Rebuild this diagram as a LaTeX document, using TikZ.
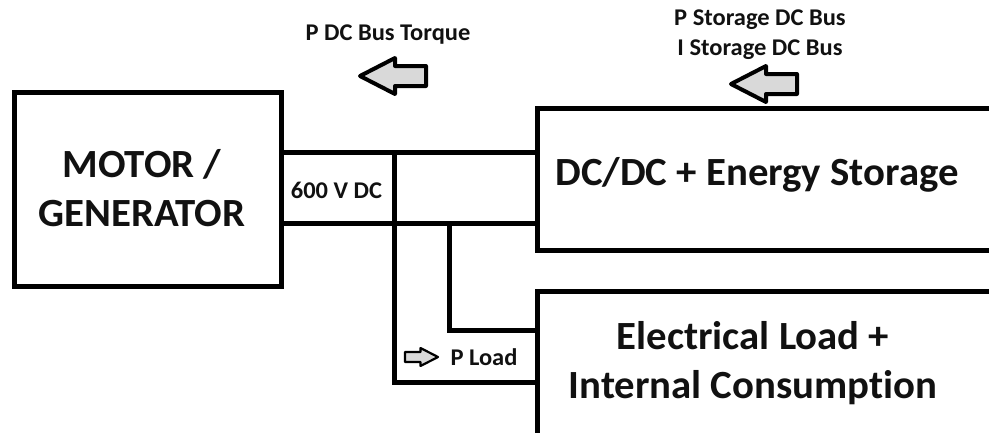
\documentclass[tikz,border=0pt]{standalone}
\usepackage{fontspec}
\setmainfont[Ligatures=NoCommon,FakeStretch=1.02]{Carlito}
\definecolor{arrowgray}{HTML}{D9D9D9}
\definecolor{inkblack}{HTML}{111111}
\begin{document}
\begin{tikzpicture}[x=1pt,y=-1pt,line width=5pt,
  box/.style={draw=black,line width=5pt,inner sep=0pt,outer sep=0pt,anchor=north west},
  bigtext/.style={font=\fontsize{40}{49}\selectfont\bfseries,align=center,text=inkblack,inner sep=0pt},
  smalltext/.style={font=\fontsize{24}{30}\selectfont\bfseries,align=center,text=inkblack,inner sep=0pt},
  bus/.style={draw=black,line width=5pt},
  blockarr/.pic={\draw[fill=arrowgray,line join=round] (0,0) -- (35,-18) -- (35,-10) -- (66,-10) -- (66,10) -- (35,10) -- (35,18) -- cycle;}]
\useasboundingbox (0,0) rectangle (989,432);
\clip (0,0) rectangle (989,432);
% boxes
\node[box,minimum width=267.5pt,minimum height=194pt] (motor) at (14,92.5) {};
\node[bigtext] (motortext) at (142,188) {MOTOR /\\GENERATOR};
\node[box,minimum width=500pt,minimum height=142pt] (store) at (537.5,108.5) {};
\node[bigtext] (storetext) at (757,175) {DC/DC + Energy Storage};
\node[box,minimum width=500pt,minimum height=200pt] (load) at (537.5,291.5) {};
\node[bigtext] (loadtext) at (753,363) {Electrical Load +\\Internal Consumption};
% junctions
\coordinate (j1) at (394,152.5);
\coordinate (j2) at (394,223.5);
\coordinate (j3) at (449.5,223.5);
\coordinate (j4) at (394,382.5);
\coordinate (j5) at (449.5,330.5);
% bus lines
\draw[bus] (motor.east |- j1) -- (store.west |- j1);
\draw[bus] (motor.east |- j2) -- (store.west |- j2);
\draw[bus] (j1) -- (j4) -- (load.west |- j4);
\draw[bus] (j3) -- (j5) -- (load.west |- j5);
% labels
\node[smalltext] (vdc) at (336.5,190) {600 V DC};
\node[smalltext] (torque) at (388,35) {P DC Bus Torque};
\node[smalltext] (storage) at (760,35) {P Storage DC Bus\\I Storage DC Bus};
\node[smalltext,anchor=west] (pload) at (448,357) {P Load};
% block arrows
\pic[line width=4pt] at (360,76) {blockarr};
\pic[line width=4pt] at (731,84) {blockarr};
\pic[line width=2.2pt,xscale=-0.5,yscale=0.5] at (438,357) {blockarr};
\end{tikzpicture}
\end{document}
